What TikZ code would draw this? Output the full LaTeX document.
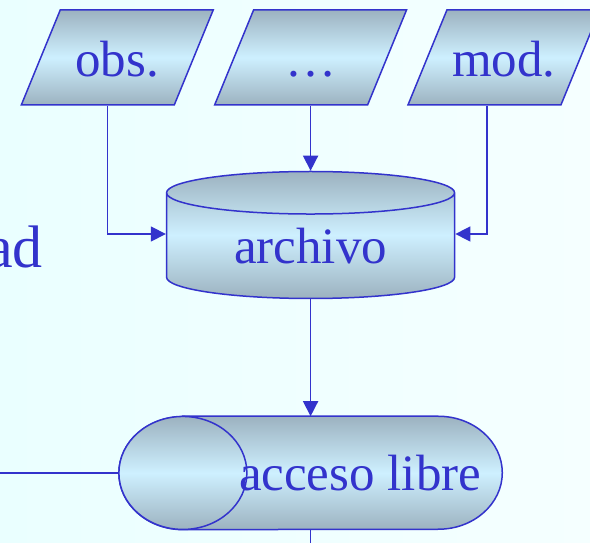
\documentclass[tikz,border=0pt]{standalone}
\usepackage{fontspec}
\setmainfont{Liberation Serif}
\usepackage{xcolor}
\usetikzlibrary{shapes.geometric, arrows.meta, positioning, calc, backgrounds}

\definecolor{inkblue}{RGB}{51,51,204}
\definecolor{shadedark}{RGB}{156,178,192}
\definecolor{shadelight}{RGB}{206,240,255}
\definecolor{bgleft}{RGB}{234,255,255}
\definecolor{bgright}{RGB}{245,255,255}

\begin{document}
\begin{tikzpicture}[
    x=1pt, y=1pt,
    every node/.style={font=\fontsize{51}{60}\selectfont, text=inkblue},
    shaded/.style={draw=inkblue, line width=1.5pt, top color=shadedark, bottom color=shadedark, middle color=shadelight},
    datablock/.style={shaded, trapezium, trapezium left angle=67.7, trapezium right angle=112.3, text width=114pt, text height=67pt, text depth=28pt, align=center, inner sep=0pt},
    storeblock/.style={shaded, cylinder, shape border rotate=90, aspect=0.278, minimum width=288pt, minimum height=127pt, inner sep=0pt},
    accessblock/.style={rectangle, minimum width=383pt, minimum height=113pt, inner sep=0pt},
    arrow/.style={-{Triangle[length=15pt, width=15pt]}, line width=1.5pt, draw=inkblue},
    link/.style={line width=1.5pt, draw=inkblue},
]

% Page and background
\useasboundingbox (0,0) rectangle (590,543);
\clip (0,0) rectangle (590,543);
\begin{scope}[on background layer]
\shade[left color=bgleft, right color=bgright] (0,0) rectangle (590,543);
\end{scope}

% Row 1: sources
\node[datablock] (obs) at (117.25,485.5) {obs.};
\node[datablock, right=38.75pt of obs] (dots) {\dots};
\node[datablock, right=38.75pt of dots] (mod) {mod.};

% Store
\node[storeblock, below=65pt of dots] (archivo) {archivo};

% Access (horizontal drum, end face on the left)
\node[accessblock, below=117pt of archivo] (acceso) {\hspace*{99pt}acceso libre};
\begin{scope}[on background layer]
\path[shaded] ([xshift=64pt]acceso.north west) -- ([xshift=-64pt]acceso.north east)
    arc[start angle=90, end angle=-90, x radius=64pt, y radius=56.5pt]
    -- ([xshift=64pt]acceso.south west)
    arc[start angle=-90, end angle=-270, x radius=64pt, y radius=56.5pt] -- cycle;
\path[shaded] ([xshift=64pt]acceso.west) ellipse [x radius=64pt, y radius=56.5pt];
\end{scope}

% Cut-off word on the left
\node[font=\fontsize{60}{70}\selectfont, anchor=base east, inner sep=0pt] (partial) at (43,275) {ad};

% Free ends
\coordinate (edge) at (0,0);

% Arrows
\draw[arrow] ([xshift=-10pt]obs.south) |- ([yshift=12pt]archivo.west);
\draw[arrow] (dots.south) -- (archivo.north);
\draw[arrow] ([xshift=-17pt]mod.south) |- ([yshift=12pt]archivo.east);
\draw[arrow] (archivo.south) -- (acceso.north);
\draw[link] (acceso.west) -- (acceso.west -| edge);
\draw[link] (acceso.south) -- (acceso.south |- edge);

\end{tikzpicture}
\end{document}
